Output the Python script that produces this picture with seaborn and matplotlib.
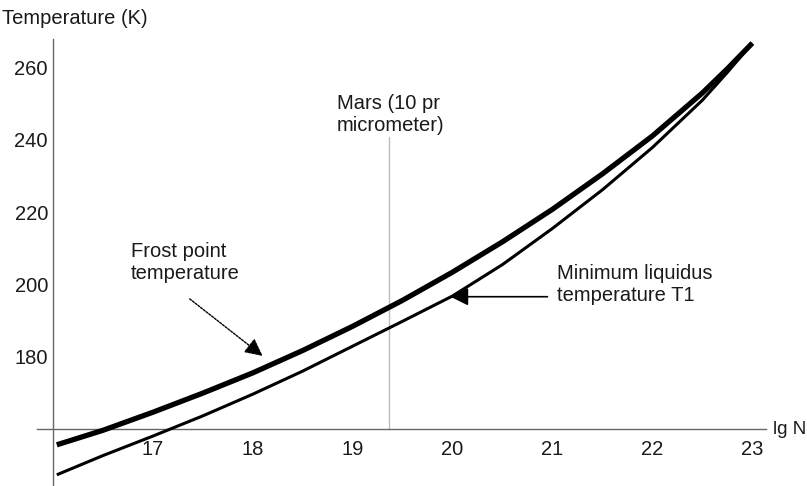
import matplotlib
matplotlib.use("Agg")
import matplotlib.pyplot as plt
import seaborn as sns
import pandas as pd
from matplotlib.ticker import MultipleLocator

# ---- data ----
lg_n = [16.04, 16.5, 17.0, 17.5, 18.0, 18.5, 19.0, 19.5, 20.0, 20.5, 21.0, 21.5, 22.0, 22.5, 22.75, 23.0]
frost_point = [155.6, 159.6, 164.6, 169.9, 175.5, 181.7, 188.4, 195.6, 203.4, 211.8, 220.8, 230.6, 241.1, 253.0, 259.7, 266.8]
min_liquidus = [147.3, 152.6, 158.0, 163.6, 169.6, 176.0, 182.9, 189.8, 196.8, 205.5, 215.5, 226.2, 237.9, 251.0, 258.7, 266.8]
mars_lg_n = 19.36
mars_line_top = 240.8
x_ticks = [17, 18, 19, 20, 21, 22, 23]
y_ticks = [180, 200, 220, 240, 260]
axis_origin = (16.0, 160.0)

sns.set_theme(style="white")
plt.rcParams["font.family"] = ["Liberation Sans", "DejaVu Sans"]

W, H = 807, 486
fig = plt.figure(figsize=(W / 100, H / 100), dpi=100)
x_lim = (15.84, 23.14)
y_lim = (144.2, 268.0)
left_px, right_px = 36.8, 766.3
top_px, bottom_px = 38.8, 486.0
ax = fig.add_axes([left_px / W, 1 - bottom_px / H, (right_px - left_px) / W, (bottom_px - top_px) / H])
ax.set_xlim(*x_lim)
ax.set_ylim(*y_lim)
ax.set_facecolor("none")

df = pd.DataFrame({"lgN": lg_n, "frost": frost_point, "liq": min_liquidus})
sns.lineplot(data=df, x="lgN", y="frost", ax=ax, color="black", lw=3.8, sort=True,
             solid_capstyle="butt", solid_joinstyle="round", zorder=3)
sns.lineplot(data=df, x="lgN", y="liq", ax=ax, color="black", lw=2.2, sort=True,
             solid_capstyle="butt", solid_joinstyle="round", zorder=3)

# Mars vertical line
ax.plot([mars_lg_n, mars_lg_n], [axis_origin[1], mars_line_top], color="#bdbdbd", lw=1.0, zorder=1)

# axes through origin (Mathematica style)
for s in ["top", "right"]:
    ax.spines[s].set_visible(False)
ax.spines["left"].set_position(("data", axis_origin[0]))
ax.spines["bottom"].set_position(("data", axis_origin[1]))
for s in ["left", "bottom"]:
    ax.spines[s].set_color("#666666")
    ax.spines[s].set_linewidth(1.0)
    ax.spines[s].set_zorder(2)

ax.set_xticks(x_ticks)
ax.set_yticks(y_ticks)
ax.xaxis.set_minor_locator(MultipleLocator(0.2))
ax.yaxis.set_minor_locator(MultipleLocator(5))
ax.tick_params(axis="both", which="major", direction="in", length=5, width=1, color="#666666",
               labelsize=14.5, labelcolor="#1a1a1a")
ax.tick_params(axis="both", which="minor", direction="in", length=3, width=0.8, color="#777777")
ax.tick_params(axis="x", which="major", pad=8)
ax.tick_params(axis="y", which="major", pad=3.5)
ax.set_xlabel("")
ax.set_ylabel("")

def fx(px):
    return px / W

def fy(py):
    return 1 - py / H

txt = dict(fontsize=14.5, color="#1a1a1a")
fig.text(fx(2), fy(18), "Temperature (K)", va="center", ha="left", **txt)
fig.text(fx(773), fy(429), "lg N", va="center", ha="left", fontsize=13.5, color="#1a1a1a")
fig.text(fx(337), fy(94), "Mars (10 pr\nmicrometer)", va="top", ha="left", linespacing=1.22, **txt)
fig.text(fx(131), fy(242), "Frost point\ntemperature", va="top", ha="left", linespacing=1.22, **txt)
fig.text(fx(557), fy(264), "Minimum liquidus\ntemperature T1", va="top", ha="left", linespacing=1.22, **txt)

# arrows
ax.annotate("", xy=(18.10, 180.2), xytext=(17.37, 196.0),
            arrowprops=dict(arrowstyle="-|>,head_length=0.9,head_width=0.45", color="black",
                            lw=1.0, linestyle=(0, (1.5, 1)), shrinkA=0, shrinkB=0))
ax.annotate("", xy=(19.98, 196.6), xytext=(20.95, 196.6),
            arrowprops=dict(arrowstyle="-|>,head_length=0.9,head_width=0.45", color="black",
                            lw=1.2, shrinkA=0, shrinkB=0))

fig.savefig("out.png", dpi=100)
